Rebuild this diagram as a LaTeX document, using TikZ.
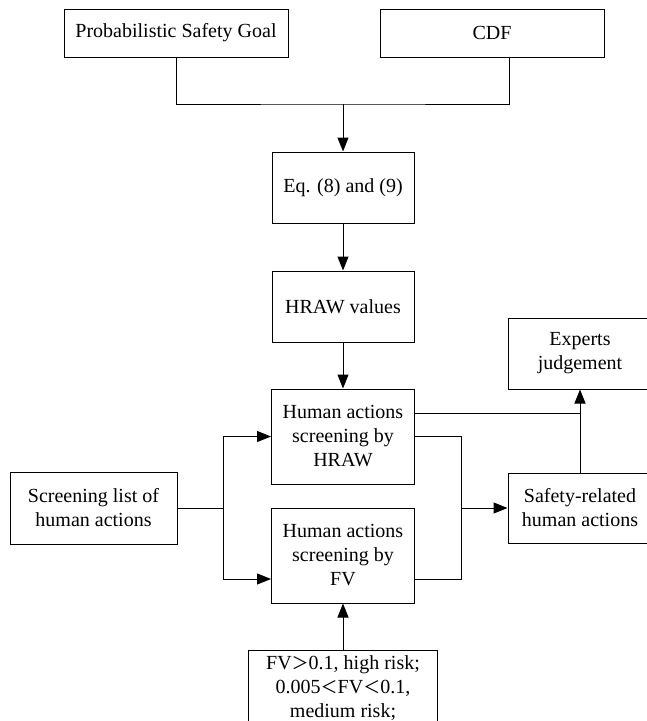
\documentclass[tikz,border=0pt]{standalone}
\usepackage{fontspec}
\setmainfont{Liberation Serif}
\newfontfamily\cjk{Noto Sans CJK SC}
\usetikzlibrary{arrows.meta}
\newcommand{\fw}[1]{{\cjk\fontsize{17}{24}\selectfont #1}}

\begin{document}
\begin{tikzpicture}[x=1pt, y=-1pt, line width=1pt,
        font=\fontsize{20}{24}\selectfont,
        box/.style={draw, align=center, inner sep=0pt},
        arr/.style={-{Triangle[length=14pt,width=11pt]}}]
        \useasboundingbox (0,0) rectangle (647,721);
        \clip (0,0) rectangle (647,721);

        \node[box, minimum width=224, minimum height=48] (psg) at (176,33) {Probabilistic Safety Goal};
        \node[box, minimum width=224, minimum height=48] (cdf) at (492,33) {CDF};
        \node[box, minimum width=142, minimum height=71] (eq) at (343,187.5) {Eq. (8) and (9)};
        \node[box, minimum width=142, minimum height=71] (hraw) at (343,306.5) {HRAW values};
        \node[box, minimum width=143, minimum height=95] (scrhraw) at (343,436.5) {Human actions\\screening by\\HRAW};
        \node[box, minimum width=143, minimum height=95] (scrfv) at (343,555.5) {Human actions\\screening by\\FV};
        \node[box, minimum width=167, minimum height=72] (list) at (93.5,508) {Screening list of\\human actions};
        \node[box, minimum width=144, minimum height=70] (safety) at (580,508) {Safety-related\\human actions};
        \node[box, minimum width=144, minimum height=71] (expert) at (580,353.5) {Experts\\judgement};
        \node[box, inner sep=5pt, minimum width=189, anchor=north] (crit) at (343,650)
            {\parbox[t][110pt][t]{179pt}{\centering FV\fw{＞}0.1, high risk;\\0.005\fw{＜}FV\fw{＜}0.1,\\medium risk;}};

        \coordinate (join) at (343,104);
        \coordinate (split) at (223,508);
        \coordinate (merge) at (461,508);
        \coordinate (hi) at ([yshift=23.5pt]scrhraw.east);

        \draw (psg.south) |- (join) -| ([xshift=17pt]cdf.south);
        \draw[arr] (join) -- (eq.north);
        \draw[arr] (eq) -- (hraw);
        \draw[arr] (hraw) -- (scrhraw);
        \draw (list.east) -- (split);
        \draw[arr] (split) |- (scrhraw.west);
        \draw[arr] (split) |- ([yshift=-23.5pt]scrfv.west);
        \draw (scrhraw.east) -| (merge);
        \draw ([yshift=-23.5pt]scrfv.east) -| (merge);
        \draw[arr] (merge) -- (safety.west);
        \draw[arr] (safety) -- (expert);
        \draw (hi) -- (hi -| expert.south);
        \draw[arr] (crit) -- (scrfv);
    \end{tikzpicture}
\end{document}
